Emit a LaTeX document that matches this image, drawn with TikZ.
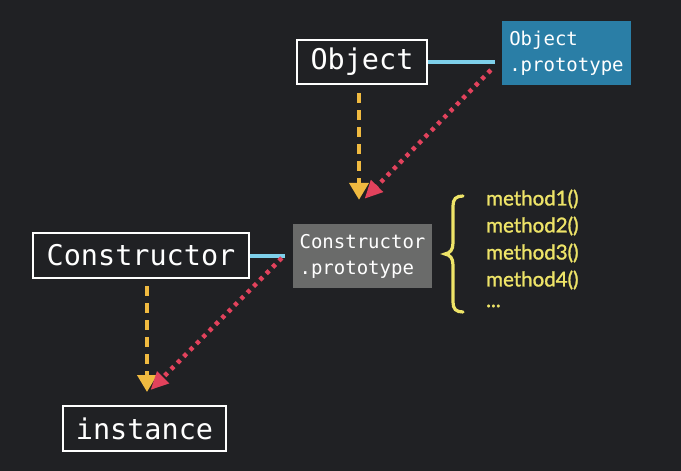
\documentclass[tikz,border=0pt]{standalone}
\usepackage{fontspec}
\setmonofont{DejaVu Sans Mono}
\newfontfamily\methodfont[FakeBold=1.3]{Lato}
\usetikzlibrary{arrows.meta}
\definecolor{bg}{RGB}{32,33,36}
\definecolor{protoblue}{RGB}{42,126,166}
\definecolor{protogray}{RGB}{106,107,106}
\definecolor{linkcyan}{RGB}{126,208,234}
\definecolor{ctorgold}{RGB}{240,186,64}
\definecolor{protored}{RGB}{226,66,92}
\definecolor{methyellow}{RGB}{238,228,104}
\tikzset{
  titlebox/.style={draw=white, line width=2pt, fill=bg, text=white, inner sep=0pt,
    font=\ttfamily\fontsize{28.5}{30}\selectfont},
  protobox/.style={inner sep=0pt, text=white, align=left,
    font=\ttfamily\fontsize{19}{26}\selectfont},
  link/.style={draw=linkcyan, line width=4pt},
  ctorarrow/.style={draw=ctorgold, line width=4pt, dash pattern=on 10pt off 7pt,
    -{Triangle[width=19pt,length=17pt,fill=ctorgold]}},
  protoarrow/.style={draw=protored, line width=4.5pt, dash pattern=on 4pt off 5pt,
    -{Triangle[width=16pt,length=18pt,fill=protored]}},
  methodtext/.style={anchor=west, inner sep=0pt, text=methyellow,
    font=\methodfont\fontsize{20.5}{22}\selectfont}
}
\begin{document}
\begin{tikzpicture}[x=1pt,y=-1pt]
  \fill[bg] (0,0) rectangle (681,471);
  \useasboundingbox (0,0) rectangle (681,471);

  % boxes
  \node[titlebox, minimum width=130pt, minimum height=44pt] (obj) at (362,62) {Object};
  \node[protobox, fill=protoblue, minimum width=129pt, minimum height=64pt] (objproto) at (566.5,53)
    {Object\\.prototype};
  \node[titlebox, minimum width=216pt, minimum height=45pt] (ctor) at (141,255.5) {Constructor};
  \node[protobox, fill=protogray, minimum width=139pt, minimum height=64pt] (ctorproto) at (362.5,256)
    {Constructor\\.prototype};
  \node[titlebox, minimum width=163pt, minimum height=45pt] (inst) at (144.5,428.5) {instance};

  % constructor <-> prototype links
  \draw[link, shorten >=7pt] (obj.east) -- (obj.east -| objproto.west);
  \draw[link, shorten >=8pt] (ctor.east) -- (ctor.east -| ctorproto.west);

  % constructor calls
  \draw[ctorarrow] ([xshift=-3pt,yshift=-8pt]obj.south) -- ([xshift=-3pt,yshift=24pt]obj.south |- ctorproto.north);
  \draw[ctorarrow] ([xshift=6pt,yshift=-7pt]ctor.south) -- ([xshift=6pt,yshift=13pt]ctor.south |- inst.north);

  % prototype chain
  \draw[protoarrow] ([xshift=-11pt,yshift=-17pt]objproto.west) -- ([xshift=2pt,yshift=25pt]ctorproto.north);
  \draw[protoarrow] ([xshift=-11pt,yshift=-2pt]ctorproto.west) -- ([xshift=6pt,yshift=15pt]inst.north);

  % method list
  \draw[methyellow, line width=3.2pt, line cap=round]
    (463,196) .. controls (456,196) and (453,199) .. (453,206)
    -- (453,243) .. controls (453,250) and (450,253) .. (445,254)
    .. controls (450,255) and (453,258) .. (453,265)
    -- (453,302) .. controls (453,309) and (456,312) .. (463,312);
  \node[methodtext] (m1) at (486,199) {method1()};
  \node[methodtext] (m2) at (486,226) {method2()};
  \node[methodtext] (m3) at (486,253) {method3()};
  \node[methodtext] (m4) at (486,280) {method4()};
  \node[methodtext] (m5) at (486,306) {...};
\end{tikzpicture}
\end{document}
